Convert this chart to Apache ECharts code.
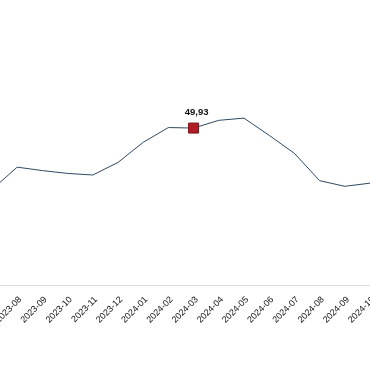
<!DOCTYPE html>
<html>
<head>
<meta charset="utf-8">
<script src="https://cdn.jsdelivr.net/npm/echarts@6/dist/echarts.min.js"></script>
<style>html,body{margin:0;padding:0;background:#fff}#c{width:370px;height:380px}</style>
</head>
<body>
<div id="c"></div>
<script>
const categories = ["2023-07","2023-08","2023-09","2023-10","2023-11","2023-12","2024-01","2024-02","2024-03","2024-04","2024-05","2024-06","2024-07","2024-08","2024-09","2024-10"];
const values = [30.4, 37.5, 36.4, 35.5, 35.0, 39.0, 45.4, 50.1, 49.93, 52.4, 53.1, 47.6, 41.9, 33.2, 31.4, 32.4];
const highlightIndex = 8;

const chart = echarts.init(document.getElementById('c'), null, {renderer: 'canvas'});
const seriesData = values.map((v, i) => i === highlightIndex ? {
  value: v,
  symbol: 'rect',
  symbolSize: 10,
  itemStyle: {color: '#b01c24', borderColor: '#7d1418', borderWidth: 1},
  label: {
    show: true, position: 'top', distance: 5, offset: [3, 0],
    formatter: p => p.value.toFixed(2).replace('.', ','),
    color: '#111', fontSize: 9.5, fontFamily: 'Liberation Sans', fontWeight: 'bold'
  }
} : {value: v});

chart.setOption({
  animation: false,
  grid: {left: -8, right: 0, top: 65, bottom: 95, containLabel: false, outerBoundsMode: 'none'},
  xAxis: {
    type: 'category', data: categories, boundaryGap: false,
    axisLine: {lineStyle: {color: '#dcdcdc', width: 1}},
    axisTick: {show: false},
    axisLabel: {interval: 0, rotate: 45, fontSize: 9, color: '#111', fontFamily: 'Liberation Sans', margin: 10, verticalAlign: 'top'}
  },
  yAxis: {type: 'value', min: 0, max: 70, show: false, splitLine: {show: false}},
  series: [{
    type: 'line', data: seriesData, symbol: 'none', showSymbol: true,
    lineStyle: {color: '#2e4a62', width: 1},
    itemStyle: {color: '#2e4a62'}
  }]
});
</script>
</body>
</html>
